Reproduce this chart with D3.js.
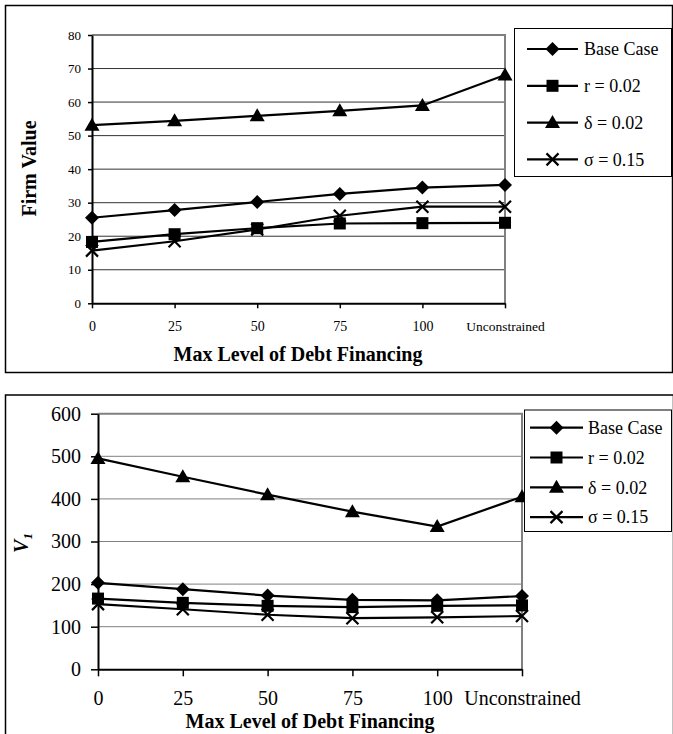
<!DOCTYPE html>
<html>
<head>
<meta charset="utf-8">
<script src="https://cdn.jsdelivr.net/npm/d3@7"></script>
<style>
  html, body { margin: 0; padding: 0; background: #fff; }
  svg { display: block; }
  svg text { font-family: "Liberation Serif", "Times New Roman", serif; }
</style>
</head>
<body>
<svg id="chart" width="673" height="734"></svg>
<script>
// ---------- data ----------
const categories = ["0", "25", "50", "75", "100", "Unconstrained"];
const seriesNames = ["Base Case", "r = 0.02", "\u03b4 = 0.02", "\u03c3 = 0.15"];
const seriesMarkers = ["diamond", "square", "triangle", "cross"];

// Top panel: Firm Value
const firmBase  = [25.5, 27.8, 30.2, 32.6, 34.5, 35.3];
const firmR     = [18.3, 20.6, 22.4, 23.8, 23.9, 24.0];
const firmDelta = [53.1, 54.4, 55.9, 57.4, 59.0, 68.1];
const firmSigma = [15.7, 18.5, 22.0, 26.1, 28.8, 28.8];
const firmTicks = [0, 10, 20, 30, 40, 50, 60, 70, 80];

// Bottom panel: V1
const v1Base  = [203, 188, 173, 163, 162, 172];
const v1R     = [166, 156, 149, 146, 149, 150];
const v1Delta = [495, 452, 410, 370, 335, 405];
const v1Sigma = [153, 141, 128, 120, 122, 125];
const v1Ticks = [0, 100, 200, 300, 400, 500, 600];

const FONT = "Liberation Serif";
const svg = d3.select("#chart");

function markerPath(type, s) {
  if (type === "diamond") return `M0,${-7*s}L${7*s},0L0,${7*s}L${-7*s},0Z`;
  if (type === "square") return `M${-6*s},${-6*s}H${6*s}V${6*s}H${-6*s}Z`;
  if (type === "triangle") return `M0,${-7.5*s}L${7.5*s},${5.5*s}L${-7.5*s},${5.5*s}Z`;
  return `M${-6*s},${-6*s}L${6*s},${6*s}M${6*s},${-6*s}L${-6*s},${6*s}`;
}
function drawMarker(g, type, cx, cy, s) {
  const p = g.append("path").attr("d", markerPath(type, s))
    .attr("transform", `translate(${cx},${cy})`);
  if (type === "cross") p.attr("fill", "none").attr("stroke", "#000").attr("stroke-width", 2.2);
  else p.attr("fill", "#000").attr("stroke", "none");
}

function panel(cfg) {
  const g = svg.append("g");
  g.append("rect").attr("x", cfg.frame[0]).attr("y", cfg.frame[1])
    .attr("width", cfg.frame[2]).attr("height", cfg.frame[3])
    .attr("fill", "none").attr("stroke", "#000").attr("stroke-width", 1.5);

  const x = d3.scalePoint().domain(categories).range([cfg.left, cfg.right]).padding(0);
  const y = d3.scaleLinear().domain([0, d3.max(cfg.ticks)]).range([cfg.bottom, cfg.top]);

  g.append("g").selectAll("line").data(cfg.ticks.filter(t => t > 0 && t < d3.max(cfg.ticks)))
    .join("line")
    .attr("x1", cfg.left).attr("x2", cfg.right)
    .attr("y1", d => y(d)).attr("y2", d => y(d))
    .attr("stroke", cfg.gridColor).attr("stroke-width", 1);
  g.append("path")
    .attr("d", `M${cfg.left},${y(d3.max(cfg.ticks))}H${cfg.right}V${cfg.bottom}`)
    .attr("fill", "none").attr("stroke", "#808080").attr("stroke-width", 2);

  const ya = g.append("g").attr("transform", `translate(${cfg.left},0)`)
    .call(d3.axisLeft(y).tickValues(cfg.ticks).tickSize(cfg.yTick).tickPadding(cfg.yPad).tickSizeOuter(0));
  ya.attr("font-family", FONT);
  ya.select(".domain").attr("stroke", "#000").attr("stroke-width", 2);
  ya.selectAll(".tick line").attr("stroke", "#000").attr("stroke-width", 1.5);
  ya.selectAll(".tick text").attr("font-size", cfg.yFont).attr("fill", "#000")
    .attr("font-family", FONT);

  const xa = g.append("g").attr("transform", `translate(0,${cfg.bottom})`)
    .call(d3.axisBottom(x).tickSize(cfg.xTick).tickSizeOuter(0));
  xa.attr("font-family", FONT);
  xa.select(".domain").attr("stroke", "#000").attr("stroke-width", 2);
  xa.selectAll(".tick line").attr("stroke", "#000").attr("stroke-width", 1.5);
  xa.selectAll(".tick text").attr("font-size", d => d === "Unconstrained" ? cfg.xFontU : cfg.xFont)
    .attr("fill", "#000").attr("font-family", FONT)
    .attr("y", cfg.xLabelY).attr("dy", 0);

  const line = d3.line().x((d, i) => x(categories[i])).y(d => y(d));
  cfg.series.forEach((vals) => {
    g.append("path").datum(vals).attr("d", line)
      .attr("fill", "none").attr("stroke", "#000").attr("stroke-width", 2.2);
  });
  cfg.series.forEach((vals, si) => {
    vals.forEach((v, i) => drawMarker(g, seriesMarkers[si], x(categories[i]), y(v), 1));
  });

  g.append("text").attr("x", cfg.xTitle[0]).attr("y", cfg.xTitle[1])
    .attr("text-anchor", "middle").attr("font-weight", "bold").attr("font-size", cfg.titleFont)
    .attr("font-family", FONT)
    .text("Max Level of Debt Financing");

  const L = cfg.legend;
  g.append("rect").attr("x", L.x).attr("y", L.y).attr("width", L.w).attr("height", L.h)
    .attr("fill", "#fff").attr("stroke", "#000").attr("stroke-width", 1);
  seriesNames.forEach((name, i) => {
    const cy = L.firstY + i * L.step;
    g.append("line").attr("x1", L.lx1).attr("x2", L.lx2).attr("y1", cy).attr("y2", cy)
      .attr("stroke", "#000").attr("stroke-width", 2.2);
    drawMarker(g, seriesMarkers[i], (L.lx1 + L.lx2) / 2, cy, 1);
    g.append("text").attr("x", L.tx).attr("y", cy).attr("dy", "0.35em")
      .attr("font-size", 18).attr("font-family", FONT).attr("fill", "#000").text(name);
  });
  return g;
}

const topG = panel({
  frame: [5.5, 5.5, 667, 367],
  left: 92, right: 505, top: 35, bottom: 303.3,
  ticks: firmTicks, gridColor: "#333",
  yTick: 4, yPad: 7, yFont: 13,
  xTick: 5, xFont: 14, xFontU: 13.5, xLabelY: 28,
  series: [firmBase, firmR, firmDelta, firmSigma],
  xTitle: [298, 361], titleFont: 20,
  legend: { x: 514.5, y: 28.5, w: 157, h: 148, firstY: 49, step: 36.8, lx1: 527, lx2: 578, tx: 584 }
});
topG.append("text")
  .attr("transform", "translate(29,168.5) rotate(-90)")
  .attr("text-anchor", "middle").attr("dominant-baseline", "central")
  .attr("font-family", FONT)
  .attr("font-weight", "bold").attr("font-size", 20).text("Firm Value");

const botG = panel({
  frame: [5.5, 395, 668, 340],
  left: 98, right: 522, top: 413.7, bottom: 669.3,
  ticks: v1Ticks, gridColor: "#808080",
  yTick: 7, yPad: 10, yFont: 20,
  xTick: 7, xFont: 20, xFontU: 20, xLabelY: 36,
  series: [v1Base, v1R, v1Delta, v1Sigma],
  xTitle: [310, 727.5], titleFont: 20,
  legend: { x: 524.5, y: 410, w: 147, h: 121.5, firstY: 427.7, step: 29.8, lx1: 530, lx2: 583, tx: 588 }
});
const vt = botG.append("text")
  .attr("transform", "translate(28,543) rotate(-90)")
  .attr("text-anchor", "middle").attr("font-family", FONT)
  .attr("font-weight", "bold").attr("font-style", "italic").attr("font-size", 20);
vt.append("tspan").text("V");
vt.append("tspan").attr("font-size", 13).attr("dy", 4).text("1");
</script>
</body>
</html>
